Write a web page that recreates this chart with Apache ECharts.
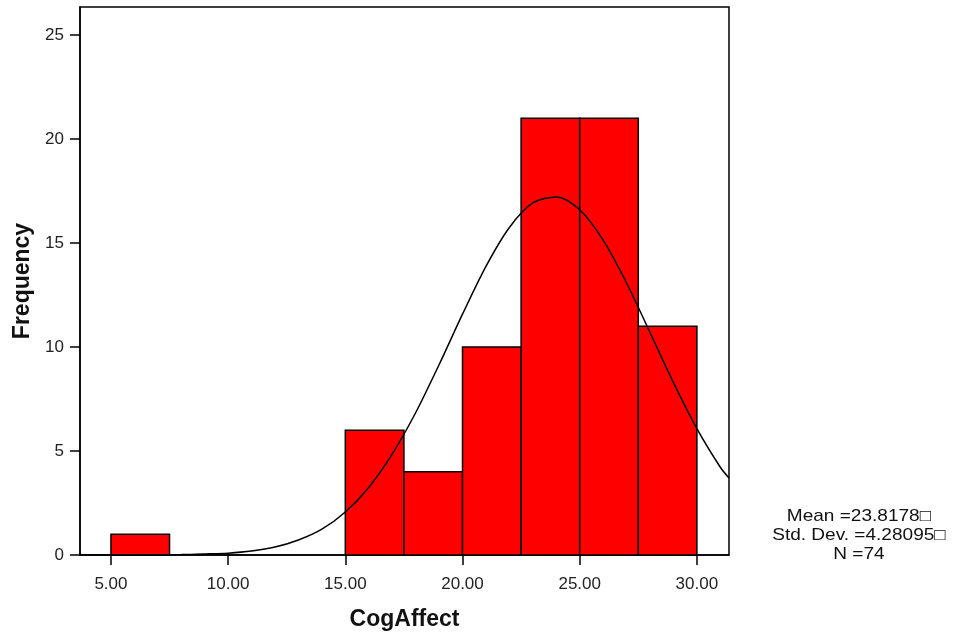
<!DOCTYPE html>
<html>
<head>
<meta charset="utf-8">
<script src="https://cdn.jsdelivr.net/npm/echarts@6/dist/echarts.min.js"></script>
<style>html,body{margin:0;padding:0;background:#fff}#c{width:956px;height:638px}</style>
</head>
<body>
<div id="c"></div>
<script>
// Histogram bins (CogAffect) and frequencies
var binStarts = [5.0, 7.5, 10.0, 12.5, 15.0, 17.5, 20.0, 22.5, 25.0, 27.5];
var binEnds   = [7.5, 10.0, 12.5, 15.0, 17.5, 20.0, 22.5, 25.0, 27.5, 30.0];
var counts    = [1, 0, 0, 0, 6, 4, 10, 21, 21, 11];
// Normal curve
var curveX = [3.68, 6, 8, 9, 10, 11, 12, 13, 14, 15, 16, 17, 18, 19, 20, 21, 22, 23, 24, 25, 26, 27, 28, 29, 30, 31, 31.37];
var curveY = [0, 0, 0.02, 0.05, 0.09, 0.19, 0.38, 0.72, 1.24, 2.07, 3.25, 4.85, 6.84, 9.15, 11.58, 13.88, 15.75, 16.93, 17.22, 16.60, 15.14, 13.08, 10.70, 8.29, 6.08, 4.22, 3.70];
var xTicks = [5, 10, 15, 20, 25, 30];
var yTicks = [0, 5, 10, 15, 20, 25];
var statLines = ['Mean =23.8178\u25A1', 'Std. Dev. =4.28095\u25A1', 'N =74'];

var barData = [];
for (var i = 0; i < counts.length; i++) {
  if (counts[i] > 0) barData.push([binStarts[i], binEnds[i], counts[i]]);
}
var lineData = curveX.map(function (x, i) { return [x, curveY[i]]; });

var chart = echarts.init(document.getElementById('c'), null, {renderer: 'canvas'});
var font = '"Liberation Sans", Arial, sans-serif';
var statGraphics = statLines.map(function (t, i) {
  return {
    type: 'text',
    x: 859, y: 516 + i * 19,
    scaleX: 1.12,
    style: {
      text: t, align: 'center', verticalAlign: 'middle',
      fontFamily: font, fontSize: 17, fill: '#111'
    }
  };
});
chart.setOption({
  animation: false,
  backgroundColor: '#fff',
  grid: {left: 80, right: 227, top: 7, bottom: 83, show: true, borderColor: '#000', borderWidth: 1.5, backgroundColor: 'transparent'},
  xAxis: {
    type: 'value', min: 3.68, max: 31.37, interval: 5,
    name: 'CogAffect', nameLocation: 'middle', nameGap: 53,
    nameTextStyle: {fontFamily: font, fontSize: 23, fontWeight: 'bold', color: '#111'},
    axisLine: {show: true, onZero: false, lineStyle: {color: '#000', width: 1.5}},
    axisTick: {show: true, length: 10, lineStyle: {color: '#000', width: 1.5}, customValues: xTicks},
    axisLabel: {fontFamily: font, fontSize: 17, color: '#222', margin: 21, customValues: xTicks,
      formatter: function (v) { return v.toFixed(2); }},
    splitLine: {show: false}
  },
  yAxis: {
    type: 'value', min: 0, max: 26.35, interval: 5,
    name: 'Frequency', nameLocation: 'middle', nameGap: 43,
    nameTextStyle: {fontFamily: font, fontSize: 23, fontWeight: 'bold', color: '#111'},
    axisLine: {show: true, lineStyle: {color: '#000', width: 1.5}},
    axisTick: {show: true, length: 10, lineStyle: {color: '#000', width: 1.5}, customValues: yTicks},
    axisLabel: {fontFamily: font, fontSize: 17, color: '#222', margin: 16, customValues: yTicks},
    splitLine: {show: false}
  },
  series: [
    {
      type: 'custom',
      data: barData,
      encode: {x: [0, 1], y: 2},
      renderItem: function (params, api) {
        var p0 = api.coord([api.value(0), api.value(2)]);
        var p1 = api.coord([api.value(1), 0]);
        return {
          type: 'rect',
          shape: {x: p0[0], y: p0[1], width: p1[0] - p0[0], height: p1[1] - p0[1]},
          style: {fill: '#ff0000', stroke: '#000', lineWidth: 1.5}
        };
      },
      z: 2
    },
    {
      type: 'line',
      data: lineData,
      smooth: 0.3,
      showSymbol: false,
      lineStyle: {color: '#000', width: 1.5},
      z: 3
    }
  ],
  graphic: statGraphics
});
</script>
</body>
</html>
